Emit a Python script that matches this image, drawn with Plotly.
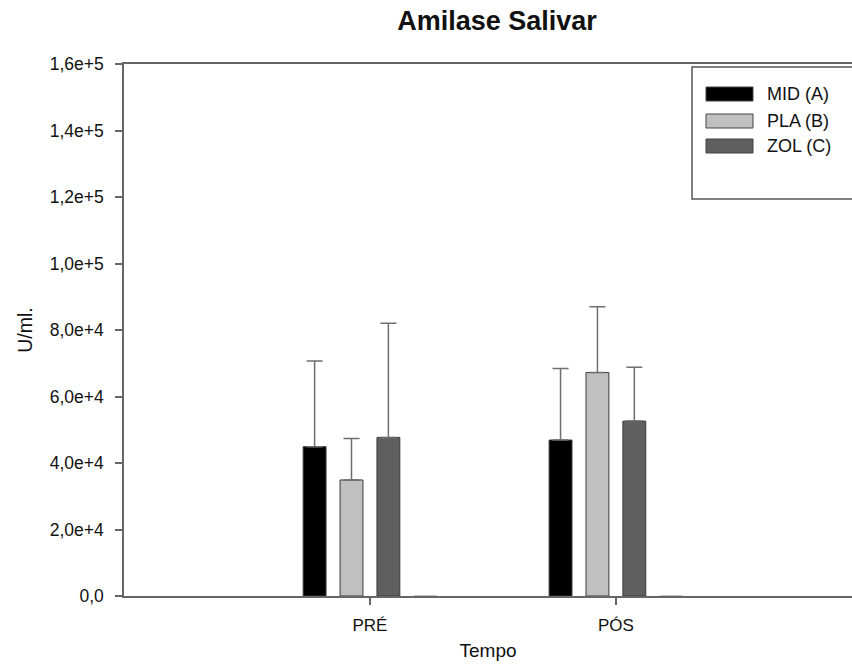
import plotly.graph_objects as go

categories = ["PRÉ", "PÓS"]
series_names = ["MID (A)", "PLA (B)", "ZOL (C)"]
mid_vals = [44900, 46900]
pla_vals = [34900, 67200]
zol_vals = [47700, 52600]
mid_err = [25800, 21500]
pla_err = [12500, 19800]
zol_err = [34300, 16200]
empty_vals = [0, 0]
colors = ["#000000", "#c0c0c0", "#5f5f5f"]
y_ticks = [0, 20000, 40000, 60000, 80000, 100000, 120000, 140000, 160000]
y_ticklabels = ["0,0", "2,0e+4", "4,0e+4", "6,0e+4", "8,0e+4", "1,0e+5", "1,2e+5", "1,4e+5", "1,6e+5"]

W, H = 852, 666
L, R, T, B = 124, 0, 64, 70
PW, PH = W - L - R, H - T - B

def px(x):
    return (x - L) / PW

def py(y):
    return (H - B - y) / PH

fig = go.Figure()
vals = [mid_vals, pla_vals, zol_vals]
errs = [mid_err, pla_err, zol_err]
xpos = list(range(len(categories)))
for name, v, e, c in zip(series_names, vals, errs, colors):
    fig.add_trace(go.Bar(
        x=xpos, y=v, name=name,
        marker=dict(color=c, line=dict(color="#3a3a3a", width=1)),
        error_y=dict(type="data", array=e, arrayminus=[0] * len(e), symmetric=False,
                     color="#6e6e6e", thickness=1.5, width=8),
        showlegend=False,
    ))
fig.add_trace(go.Bar(x=xpos, y=empty_vals, name="", showlegend=False,
                     marker=dict(color="#ffffff", line=dict(color="#777777", width=0.5))))

font_family = "Liberation Sans, Arial, sans-serif"

fig.update_layout(
    width=W, height=H,
    margin=dict(l=L, r=R, t=T, b=B),
    paper_bgcolor="white", plot_bgcolor="white",
    barmode="group", bargap=0.4, bargroupgap=0.38,
    font=dict(family=font_family, size=17, color="#111111"),
    showlegend=False,
    xaxis=dict(
        range=[-1, 1.96], tickvals=xpos, ticktext=categories,
        showline=True, linecolor="#666666", linewidth=1.5, mirror=True,
        ticks="outside", ticklen=7, tickcolor="#666666", tickwidth=1.5,
        showgrid=False, zeroline=False,
        tickfont=dict(size=17), ticklabelstandoff=6,
        title=dict(text="Tempo", font=dict(size=19), standoff=10),
    ),
    yaxis=dict(
        range=[0, 160000], tickvals=y_ticks, ticktext=y_ticklabels,
        showline=True, linecolor="#666666", linewidth=1.5,
        ticks="outside", ticklen=7, tickcolor="#666666", tickwidth=1.5,
        showgrid=False, zeroline=False,
        tickfont=dict(size=17.5), ticklabelstandoff=8,
        title=dict(text="U/ml.", font=dict(size=19.5), standoff=12),
    ),
    title=dict(text="<b>Amilase Salivar</b>", x=px(497), xref="paper", xanchor="center",
               y=1 - 21 / H, yanchor="middle", font=dict(size=27, color="#111111")),
)

# Legend box (drawn manually to match wide swatches)
shapes = [dict(type="rect", xref="paper", yref="paper",
               x0=px(692), x1=px(870), y0=py(199), y1=py(67),
               line=dict(color="#555555", width=1.5), fillcolor="white", layer="above")]
annotations = []
centers = [94, 121, 146]
for name, c, yc in zip(series_names, colors, centers):
    shapes.append(dict(type="rect", xref="paper", yref="paper",
                       x0=px(706), x1=px(753), y0=py(yc + 7), y1=py(yc - 7),
                       line=dict(color="#444444", width=1), fillcolor=c, layer="above"))
    annotations.append(dict(text=name, xref="paper", yref="paper", x=px(765), y=py(yc),
                            xanchor="left", yanchor="middle", showarrow=False,
                            font=dict(size=18, color="#111111")))
fig.update_layout(shapes=shapes, annotations=annotations)

fig.write_html("out.html")
